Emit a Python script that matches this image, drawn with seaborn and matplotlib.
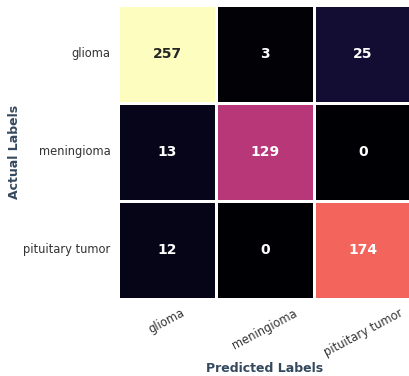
import matplotlib
matplotlib.use("Agg")
import matplotlib.pyplot as plt
import seaborn as sns
import numpy as np
import pandas as pd

class_names = ["glioma", "meningioma", "pituitary tumor"]
row_glioma = [257, 3, 25]
row_meningioma = [13, 129, 0]
row_pituitary = [12, 0, 174]

cm = pd.DataFrame([row_glioma, row_meningioma, row_pituitary],
                  index=class_names, columns=class_names)

W, H = 409, 376
fig = plt.figure(figsize=(W / 100, H / 100), dpi=100)
ax = fig.add_axes([118 / W, (H - 299) / H, (412 - 118) / W, (299 - 5) / H])

sns.heatmap(cm, ax=ax, cmap="magma", annot=True, fmt="d", cbar=False,
            linewidths=2, linecolor="white",
            annot_kws={"fontsize": 10, "fontweight": "bold"})

ax.tick_params(length=0, labelsize=8.3, colors="#333333", pad=5.5)
ax.set_xticklabels(class_names, rotation=28, ha="center")
ax.set_yticklabels(class_names, rotation=0)
ax.set_xlabel("Predicted Labels", fontsize=9, fontweight="bold", color="#34495e", labelpad=2)
ax.set_ylabel("Actual Labels", fontsize=9, fontweight="bold", color="#34495e", labelpad=1.5)

# chart title sits above the visible frame
fig.text(0.5, 1.0 + 1 / H, "Confusion Matrix", ha="center", va="bottom",
         fontsize=13, fontweight="bold", color="#7a5c9e")

fig.savefig("out.png", dpi=100)
